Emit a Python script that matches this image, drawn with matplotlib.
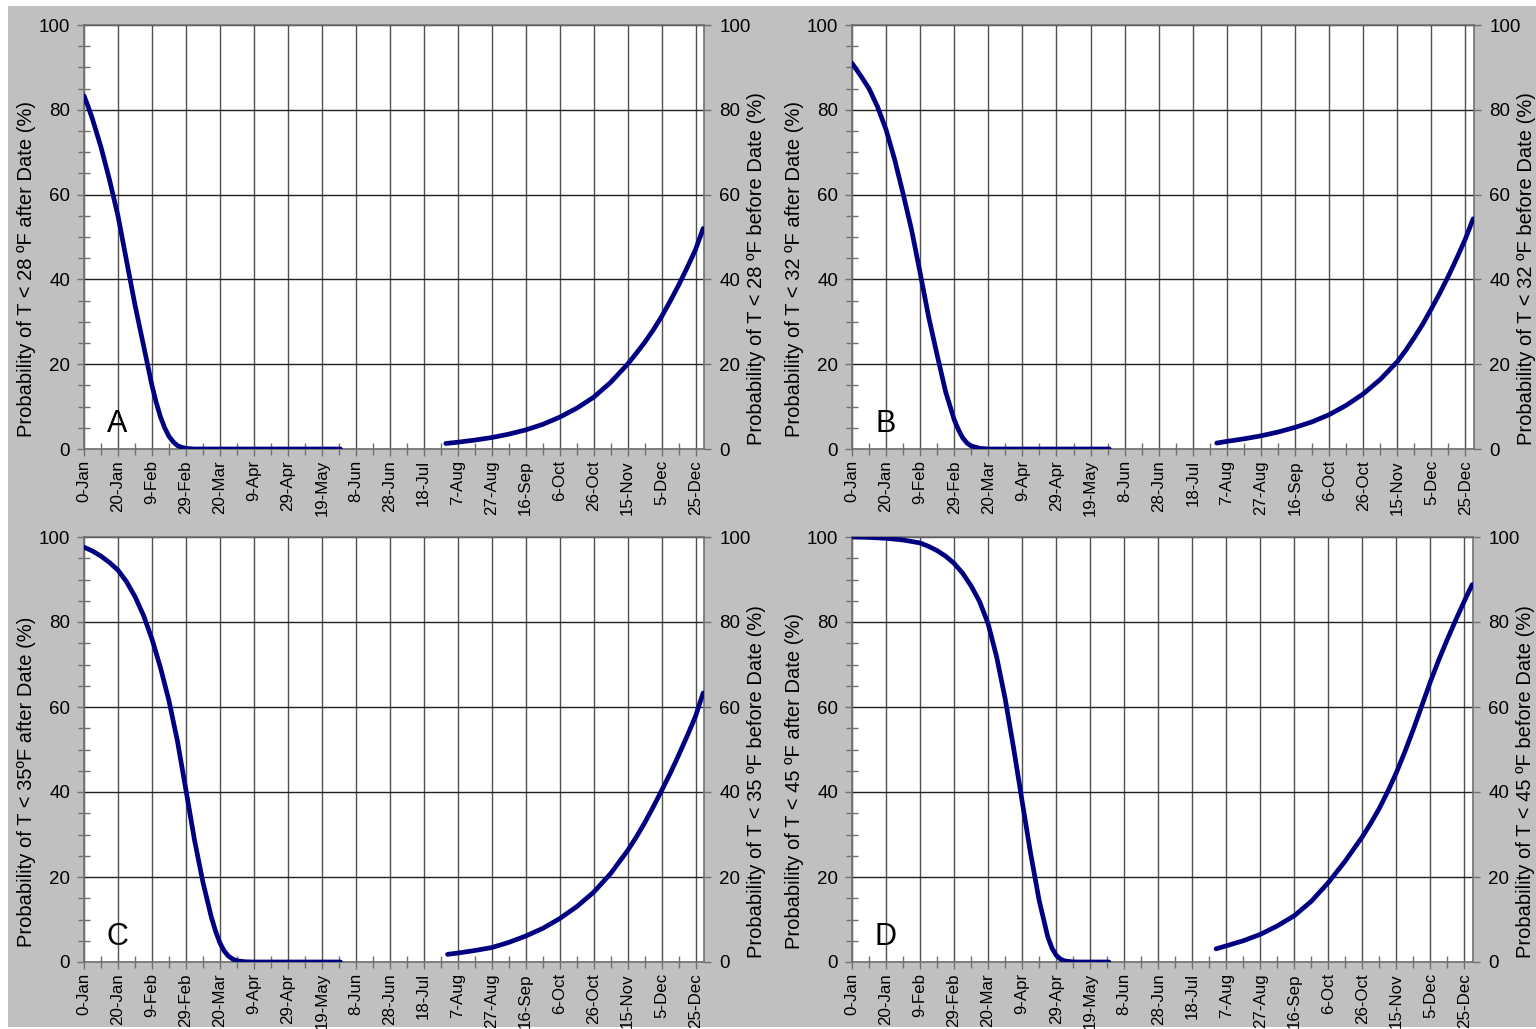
import matplotlib
matplotlib.use("Agg")
import matplotlib.pyplot as plt
from matplotlib.patches import Rectangle
from matplotlib.ticker import MultipleLocator

plt.rcParams['font.family'] = ['Liberation Sans', 'DejaVu Sans']

x_tick_days = list(range(0, 361, 20))
x_tick_labels = ['0-Jan', '20-Jan', '9-Feb', '29-Feb', '20-Mar', '9-Apr', '29-Apr',
                 '19-May', '8-Jun', '28-Jun', '18-Jul', '7-Aug', '27-Aug', '16-Sep',
                 '6-Oct', '26-Oct', '15-Nov', '5-Dec', '25-Dec']

# Panel A (T < 28 F)
a_spring_days = [0, 2.5, 5, 10, 15, 20, 25, 30, 35, 40, 42.5, 45, 47.5, 50, 52.5, 55, 57.5, 60, 65, 151]
a_spring_vals = [83.3, 80.7, 77.8, 71.2, 63.5, 55, 44.5, 34, 24.5, 15, 11.0, 7.6, 5.0, 3.0, 1.7,
                 0.8, 0.4, 0.15, 0, 0]
a_fall_days = [213, 220, 230, 240, 250, 260, 270, 280, 290, 300, 310, 320, 325, 330, 335, 340,
               345, 350, 355, 360, 364.5]
a_fall_vals = [1.3, 1.6, 2.1, 2.7, 3.5, 4.5, 5.8, 7.5, 9.6, 12.2, 15.7, 20, 22.5, 25.1, 28, 31.2,
               34.8, 38.6, 42.7, 47, 52]

# Panel B (T < 32 F)
b_spring_days = [0, 5, 10, 15, 20, 25, 30, 35, 40, 45, 50, 55, 60, 62.5, 65, 67.5, 70, 75, 80, 151]
b_spring_vals = [91, 88.1, 85, 80.7, 75.3, 68.3, 60.2, 51.6, 41.5, 31.1, 22.1, 13.4, 6.9, 4.5,
                 2.6, 1.4, 0.7, 0.15, 0, 0]
b_fall_days = [214, 220, 230, 240, 250, 260, 270, 280, 290, 300, 310, 320, 325, 330, 335, 340,
               345, 350, 355, 360, 364.5]
b_fall_vals = [1.4, 1.8, 2.4, 3.1, 4.0, 5.1, 6.4, 8.1, 10.3, 13.0, 16.4, 20.6, 23.3, 26.3, 29.5,
               33.1, 36.8, 40.8, 45.1, 49.6, 54.3]

# Panel C (T < 35 F)
c_spring_days = [0, 5, 10, 15, 20, 25, 30, 35, 40, 45, 50, 55, 60, 65, 70, 75, 77.5, 80, 82.5,
                 85, 87.5, 90, 95, 100, 151]
c_spring_vals = [97.6, 96.7, 95.5, 94, 92.2, 89.5, 86, 81.6, 76, 69.3, 61.5, 52, 40.5, 28.8,
                 18.8, 10.5, 7.2, 4.5, 2.6, 1.4, 0.7, 0.3, 0.05, 0, 0]
c_fall_days = [214, 220, 230, 240, 250, 260, 270, 280, 290, 300, 310, 320, 325, 330, 335, 340,
               345, 350, 355, 360, 364.5]
c_fall_vals = [1.8, 2.1, 2.7, 3.4, 4.6, 6.1, 7.9, 10.2, 13.0, 16.4, 20.8, 26.2, 29.3, 32.7, 36.4,
               40.3, 44.3, 48.6, 53.1, 57.8, 63.3]

# Panel D (T < 45 F)
d_spring_days = [0, 10, 20, 30, 40, 45, 50, 55, 60, 65, 70, 75, 80, 85, 90, 95, 100, 105, 110,
                 115, 117.5, 120, 122.5, 125, 130, 135, 151]
d_spring_vals = [100, 99.9, 99.7, 99.3, 98.6, 97.8, 96.8, 95.5, 93.8, 91.5, 88.5, 84.8, 79.6,
                 71.8, 62, 50.3, 37.8, 25.5, 14.5, 6, 3.3, 1.6, 0.7, 0.25, 0.02, 0, 0]
d_fall_days = [214, 220, 230, 240, 250, 260, 270, 280, 290, 300, 305, 310, 315, 320, 325, 330,
               335, 340, 345, 350, 355, 360, 364.5]
d_fall_vals = [3.1, 3.8, 5.0, 6.5, 8.5, 10.9, 14.3, 18.7, 23.8, 29.5, 32.7, 36.2, 40.2, 44.6,
               49.5, 54.8, 60.4, 66, 71.2, 76, 80.6, 85, 88.8]

panel_letters = ['A', 'B', 'C', 'D']
left_labels = ['Probability of T < 28 ºF after Date (%)',
               'Probability of T < 32 ºF after Date (%)',
               'Probability of T < 35ºF after Date (%)',
               'Probability of T < 45 ºF after Date (%)']
right_labels = ['Probability of T < 28 ºF before Date (%)',
                'Probability of T < 32 ºF before Date (%)',
                'Probability of T < 35 ºF before Date (%)',
                'Probability of T < 45 ºF before Date (%)']
springs = [(a_spring_days, a_spring_vals), (b_spring_days, b_spring_vals),
           (c_spring_days, c_spring_vals), (d_spring_days, d_spring_vals)]
falls = [(a_fall_days, a_fall_vals), (b_fall_days, b_fall_vals),
         (c_fall_days, c_fall_vals), (d_fall_days, d_fall_vals)]

W, H = 1536, 1029
fig = plt.figure(figsize=(W / 100, H / 100), dpi=100, facecolor='white')
fig.patches.append(Rectangle((8 / W, 2 / H), 1 - 8 / W, 1 - 8 / H, transform=fig.transFigure,
                             facecolor='#c0c0c0', edgecolor='none', zorder=-10))

# pixel boxes: left, right, top, bottom
boxes = [(84, 704, 25, 449), (852, 1474, 25, 449), (84, 704, 537, 962), (852, 1473, 537, 962)]

line_color = '#000080'
spine_color = '#707070'
label_size = 14.5
ytick_size = 13.5
xtick_size = 12.2

for i, (l, r, t, b) in enumerate(boxes):
    ax = fig.add_axes([l / W, 1 - b / H, (r - l) / W, (b - t) / H])
    ax.set_facecolor('white')
    ax.set_xlim(0, 365)
    ax.set_ylim(0, 100)
    ax.set_xticks(x_tick_days)
    ax.set_xticklabels(x_tick_labels, rotation=90)
    ax.xaxis.set_minor_locator(MultipleLocator(10))
    ax.set_yticks(range(0, 101, 20))
    ax.yaxis.set_minor_locator(MultipleLocator(5))
    ax.tick_params(axis='both', which='major', direction='out', length=5, width=1,
                   color=spine_color, labelsize=ytick_size, pad=5)
    ax.tick_params(axis='x', which='major', labelsize=xtick_size, pad=3)
    ax.tick_params(axis='both', which='minor', direction='inout', length=8, width=1,
                   color=spine_color)
    ax.grid(True, axis='x', which='major', color='#505050', linewidth=1.0)
    ax.grid(True, axis='y', which='major', color='#202020', linewidth=1.0)
    ax.set_axisbelow(True)
    for s in ax.spines.values():
        s.set_color(spine_color)
        s.set_linewidth(1.2)
    ax.set_ylabel(left_labels[i], fontsize=label_size)
    ax.yaxis.set_label_coords(-0.092, 0.425)
    ax.yaxis.label.set_verticalalignment('center')

    sd, sv = springs[i]
    fd, fv = falls[i]
    ax.plot(sd, sv, color=line_color, linewidth=3.4, solid_capstyle='round',
            solid_joinstyle='round', zorder=3)
    ax.plot(fd, fv, color=line_color, linewidth=3.4, solid_capstyle='round',
            solid_joinstyle='round', zorder=3)
    ax.text(13.5, 4, panel_letters[i], fontsize=22, ha='left', va='baseline', zorder=4)

    ax2 = ax.twinx()
    ax2.set_ylim(0, 100)
    ax2.set_yticks(range(0, 101, 20))
    ax2.tick_params(axis='y', direction='out', length=5, width=1, color=spine_color,
                    labelsize=ytick_size, pad=6)
    for s in ax2.spines.values():
        s.set_visible(False)
    ax2.set_ylabel(right_labels[i], fontsize=label_size)
    ax2.yaxis.set_label_coords(1.084, 0.425)
    ax2.yaxis.label.set_verticalalignment('center')

fig.savefig('out.png', dpi=100, facecolor=fig.get_facecolor())
